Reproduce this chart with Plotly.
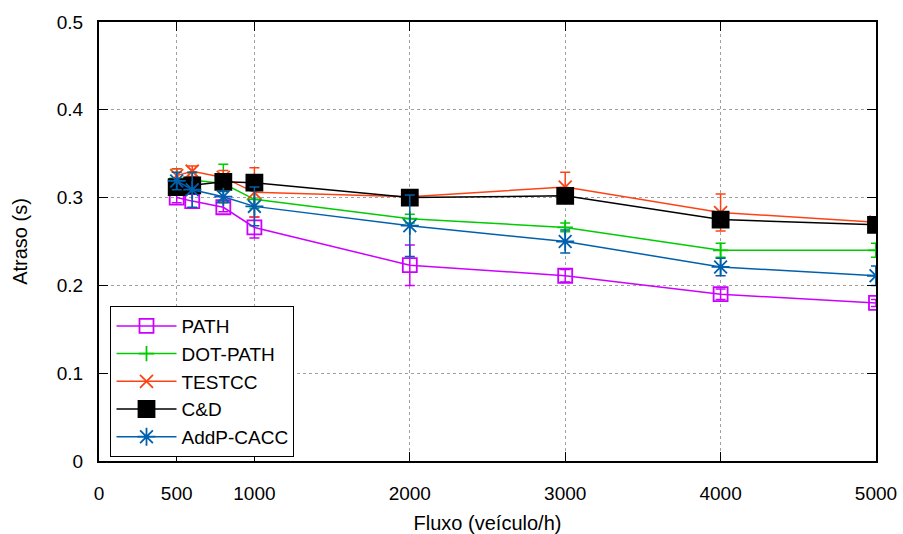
import plotly.graph_objects as go

# ---- data ----
flow = [500, 600, 800, 1000, 2000, 3000, 4000, 5000]

path = [0.300, 0.296, 0.289, 0.266, 0.223, 0.211, 0.190, 0.180]
path_err = [0.006, 0.008, 0.005, 0.012, 0.023, 0.007, 0.006, 0.004]

dot_path = [0.322, 0.320, 0.316, 0.298, 0.276, 0.266, 0.240, 0.240]
dot_path_err = [0.011, 0.008, 0.022, 0.010, 0.005, 0.005, 0.008, 0.008]

testcc = [0.325, 0.330, 0.323, 0.306, 0.301, 0.312, 0.283, 0.272]
testcc_err = [0.008, 0.006, 0.008, 0.028, 0.003, 0.017, 0.021, 0.004]

cd = [0.312, 0.314, 0.318, 0.317, 0.300, 0.302, 0.275, 0.269]
cd_err = [0.005, 0.005, 0.005, 0.005, 0.003, 0.003, 0.004, 0.004]

addp = [0.319, 0.309, 0.301, 0.290, 0.268, 0.250, 0.221, 0.211]
addp_err = [0.010, 0.020, 0.006, 0.022, 0.035, 0.013, 0.010, 0.011]

x_ticks = [0, 500, 1000, 2000, 3000, 4000, 5000]
y_ticks = [0, 0.1, 0.2, 0.3, 0.4, 0.5]
y_tick_text = ["0", "0.1", "0.2", "0.3", "0.4", "0.5"]

series = [
    ("PATH", path, path_err, "#cc00ff", "square-open", 14),
    ("DOT-PATH", dot_path, dot_path_err, "#00cc00", "cross-thin-open", 11),
    ("TESTCC", testcc, testcc_err, "#ff4214", "x-thin-open", 13),
    ("C&D", cd, cd_err, "#000000", "square", 16),
    ("AddP-CACC", addp, addp_err, "#0060ad", "asterisk-open", 15),
]

FONT = "Liberation Sans"

fig = go.Figure()
for name, ys, errs, color, sym, size in series:
    fig.add_trace(go.Scatter(
        x=flow, y=ys, name=name, mode="lines+markers",
        line=dict(color=color, width=1.5),
        marker=dict(symbol=sym, size=size, color=color,
                    line=dict(color=color, width=1.8)),
        error_y=dict(type="data", array=errs, visible=True,
                     color=color, thickness=1.5, width=5),
    ))

fig.update_layout(
    width=903, height=534,
    margin=dict(l=98.5, r=26.5, t=22, b=73, autoexpand=False),
    paper_bgcolor="white", plot_bgcolor="white",
    font=dict(family=FONT, size=19, color="black"),
    showlegend=True,
    legend=dict(
        x=0.0148, y=0.353, xanchor="left", yanchor="top",
        bgcolor="white", bordercolor="black", borderwidth=1,
        font=dict(family=FONT, size=19, color="black"),
        itemwidth=60, tracegroupgap=0,
    ),
)

fig.update_xaxes(
    range=[0, 5000], tickvals=x_ticks, automargin=False,
    showline=True, linecolor="black", linewidth=2, mirror="ticks",
    ticks="inside", ticklen=9, tickwidth=1, tickcolor="black",
    showgrid=True, gridcolor="#a0a0a0", gridwidth=1, griddash="dot",
    zeroline=False, ticklabelstandoff=14,
    title=dict(text="Fluxo (veículo/h)", font=dict(size=20), standoff=14),
)
fig.update_yaxes(
    range=[0, 0.5], tickvals=y_ticks, ticktext=y_tick_text, automargin=False,
    showline=True, linecolor="black", linewidth=2, mirror="ticks",
    ticks="inside", ticklen=9, tickwidth=1, tickcolor="black",
    showgrid=True, gridcolor="#a0a0a0", gridwidth=1, griddash="dot",
    zeroline=False, ticklabelstandoff=10,
    title=dict(text="Atraso (s)", font=dict(size=20), standoff=24),
)

fig.write_html("out.html")
